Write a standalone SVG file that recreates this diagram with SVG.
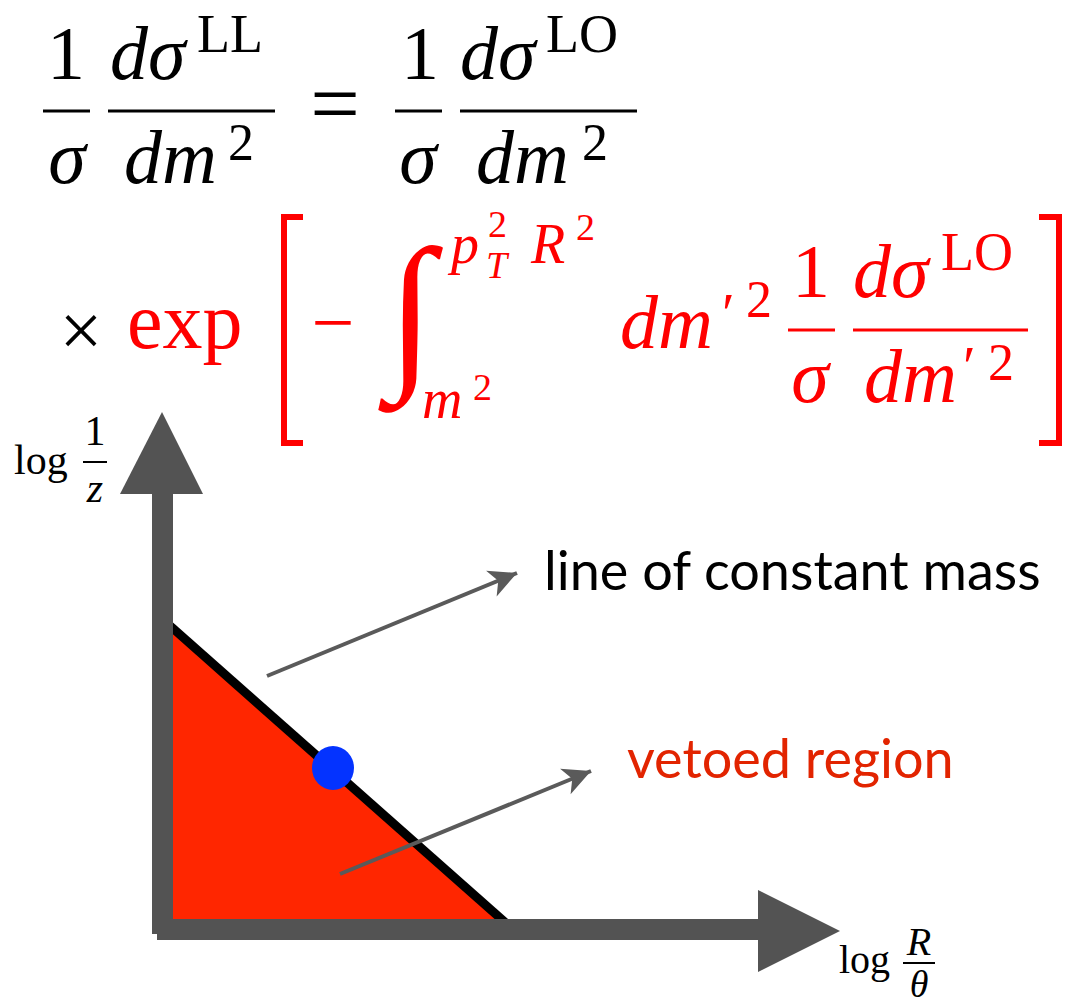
<svg xmlns="http://www.w3.org/2000/svg" width="1080" height="1003" viewBox="0 0 1080 1003">
<defs>
<style>
text{font-family:"Liberation Serif","Times New Roman","DejaVu Serif",serif;}
text.i{font-style:italic;}
text.k{fill:#000;}
text.r{fill:#ff0000;}
.bar{stroke-width:3;}
.bk{stroke:#000;}
.rd{stroke:#ff0000;}
.ax{fill:#535353;}
text.lbl{font-family:Lato,"Noto Sans",sans-serif;}
.ptr{stroke:#5a5a5a;stroke-width:4;fill:none;}
</style>
<marker id="ah" markerUnits="userSpaceOnUse" markerWidth="32" markerHeight="32" viewBox="-28 -15 30 30" refX="0" refY="0" orient="auto">
<path d="M0,0 L-26,-13 L-19,0 L-26,13 Z" fill="#5a5a5a"/>
</marker>
</defs>
<rect width="1080" height="1003" fill="#fff"/>

<g id="formula-line1">
<text x="66" y="79" font-size="76" text-anchor="middle" class="k">1</text>
<line class="bar bk" x1="43" y1="111" x2="90" y2="111"/>
<text x="67" y="183" font-size="76" text-anchor="middle" class="k i">σ</text>
<text x="110" y="79" font-size="76" class="k i">dσ</text>
<text x="197" y="52" font-size="54" class="k">LL</text>
<line class="bar bk" x1="108" y1="111" x2="275" y2="111"/>
<text x="124" y="183" font-size="76" class="k i">dm</text>
<text x="228" y="160" font-size="52" class="k">2</text>
<text x="335" y="133" font-size="88" text-anchor="middle" class="k">=</text>
<text x="420" y="79" font-size="76" text-anchor="middle" class="k">1</text>
<line class="bar bk" x1="395" y1="111" x2="442" y2="111"/>
<text x="418" y="183" font-size="76" text-anchor="middle" class="k i">σ</text>
<text x="460" y="79" font-size="76" class="k i">dσ</text>
<text x="546" y="52" font-size="54" class="k">LO</text>
<line class="bar bk" x1="460" y1="111" x2="637" y2="111"/>
<text x="476" y="183" font-size="76" class="k i">dm</text>
<text x="582" y="160" font-size="52" class="k">2</text>
</g>

<g id="formula-line2">
<text x="81" y="356" font-size="76" text-anchor="middle" class="k">×</text>
<text x="127" y="348" font-size="80" class="r">exp</text>
<path d="M303,217 H284 V443 H303" fill="none" stroke="#ff0000" stroke-width="6"/>
<text x="333" y="348" font-size="76" text-anchor="middle" class="r">−</text>
<text x="411" y="367" font-size="171" text-anchor="middle" class="r i">∫</text>
<text x="451" y="263" font-size="56" class="r i">p</text>
<text x="488" y="237" font-size="38" class="r">2</text>
<text x="486" y="278" font-size="38" class="r i">T</text>
<text x="531" y="263" font-size="56" class="r i">R</text>
<text x="576" y="240" font-size="38" class="r">2</text>
<text x="422" y="418" font-size="56" class="r i">m</text>
<text x="473" y="400" font-size="38" class="r">2</text>
<text x="620" y="348" font-size="76" class="r i">dm</text>
<text x="722" y="333" font-size="58" class="r">′</text>
<text x="746" y="317" font-size="52" class="r">2</text>
<text x="811" y="297" font-size="76" text-anchor="middle" class="r">1</text>
<line class="bar rd" x1="788" y1="330" x2="835" y2="330"/>
<text x="810" y="402" font-size="76" text-anchor="middle" class="r i">σ</text>
<text x="853" y="297" font-size="76" class="r i">dσ</text>
<text x="941" y="270" font-size="54" class="r">LO</text>
<line class="bar rd" x1="853" y1="330" x2="1028" y2="330"/>
<text x="864" y="402" font-size="76" class="r i">dm</text>
<text x="963" y="386" font-size="58" class="r">′</text>
<text x="988" y="380" font-size="52" class="r">2</text>
<path d="M1039,217 H1059 V443 H1039" fill="none" stroke="#ff0000" stroke-width="6"/>
</g>

<g id="region">
<polygon points="173,630 173,919 500,919" fill="#ff2600"/>
<line x1="168" y1="624" x2="508" y2="925" stroke="#000" stroke-width="9"/>
</g>

<g id="point">
<ellipse cx="333" cy="768" rx="21" ry="22" fill="#0433ff"/>
</g>

<g id="axes">
<rect x="152" y="490" width="21" height="444" class="ax"/>
<polygon points="162,412 120,494 203,494" class="ax"/>
<rect x="157" y="919" width="604" height="21" class="ax"/>
<polygon points="840,931 758,890 758,972" class="ax"/>
</g>

<g id="axis-label-y">
<text x="14" y="474" font-size="42" class="k">log</text>
<text x="95" y="445" font-size="42" text-anchor="middle" class="k">1</text>
<line x1="83" y1="462" x2="107" y2="462" stroke="#000" stroke-width="2"/>
<text x="95" y="502" font-size="42" text-anchor="middle" class="k i">z</text>
</g>

<g id="axis-label-x">
<text x="839" y="973" font-size="40" class="k">log</text>
<text x="919" y="955" font-size="40" text-anchor="middle" class="k i">R</text>
<line x1="903" y1="963" x2="935" y2="963" stroke="#000" stroke-width="2"/>
<text x="919" y="997" font-size="38" text-anchor="middle" class="k i">θ</text>
</g>

<g id="connectors">
<line class="ptr" x1="267" y1="676" x2="517" y2="573" marker-end="url(#ah)"/>
<line class="ptr" x1="340" y1="874" x2="591" y2="771" marker-end="url(#ah)"/>
</g>

<g id="label-mass">
<text x="544" y="590" font-size="54" class="lbl" fill="#000">line of constant mass</text>
</g>
<g id="label-veto">
<text x="627" y="778" font-size="54" class="lbl" fill="#e22400">vetoed region</text>
</g>
</svg>
